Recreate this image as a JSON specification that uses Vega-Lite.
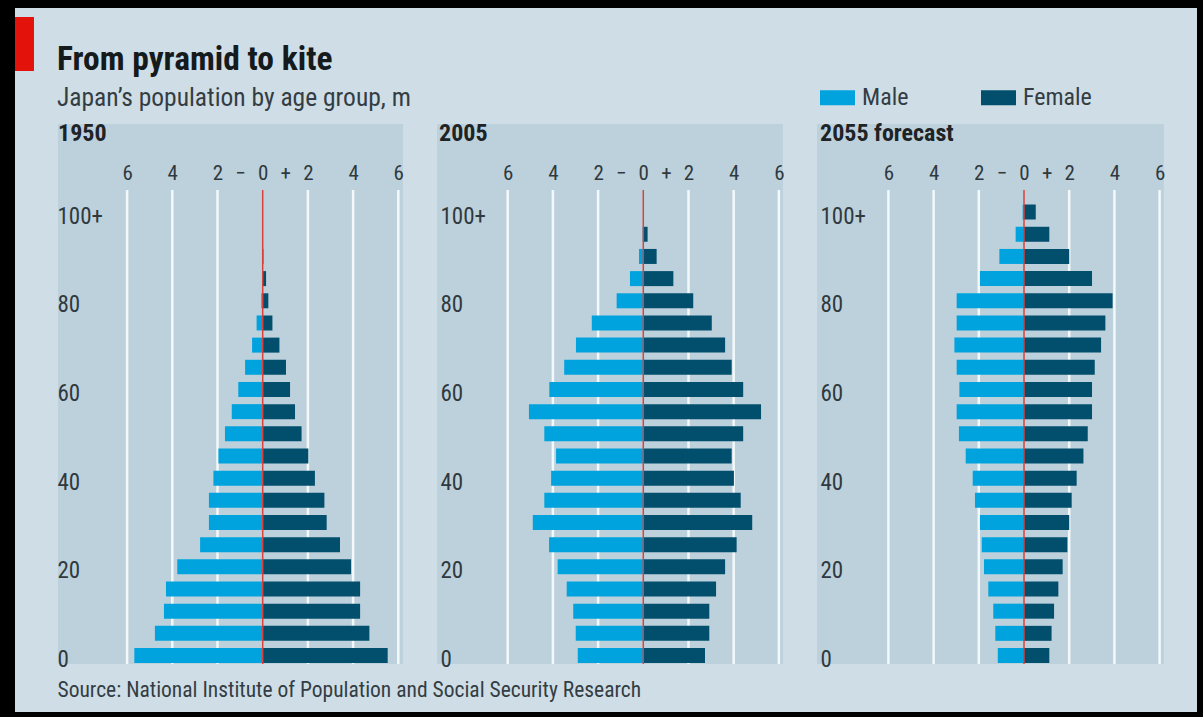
{
  "$schema": "https://vega.github.io/schema/vega-lite/v6.json",
  "background": "#000000",
  "padding": {"left": 15, "top": 8, "right": 6, "bottom": 5},
  "spacing": 0,
  "bounds": "flush",
  "resolve": {"scale": {"color": "shared"}, "legend": {"color": "shared"}},
  "title": {
    "text": "From pyramid to kite",
    "subtitle": "Japan’s population by age group, m",
    "anchor": "start",
    "frame": "group",
    "dx": 42,
    "offset": -104,
    "fontSize": 33.5,
    "fontWeight": "bold",
    "color": "#151a1d",
    "subtitleFontSize": 25.5,
    "subtitleColor": "#333d43",
    "subtitlePadding": 8
  },
  "datasets": {
    "grid": [{"g": -6}, {"g": -4}, {"g": -2}, {"g": 2}, {"g": 4}, {"g": 6}],
    "pop": [
      {"year": "1950", "age": 0, "sex": "Male", "v": -5.68}, {"year": "1950", "age": 5, "sex": "Male", "v": -4.77},
      {"year": "1950", "age": 10, "sex": "Male", "v": -4.37}, {"year": "1950", "age": 15, "sex": "Male", "v": -4.28},
      {"year": "1950", "age": 20, "sex": "Male", "v": -3.78}, {"year": "1950", "age": 25, "sex": "Male", "v": -2.77},
      {"year": "1950", "age": 30, "sex": "Male", "v": -2.38}, {"year": "1950", "age": 35, "sex": "Male", "v": -2.38},
      {"year": "1950", "age": 40, "sex": "Male", "v": -2.18}, {"year": "1950", "age": 45, "sex": "Male", "v": -1.96},
      {"year": "1950", "age": 50, "sex": "Male", "v": -1.67}, {"year": "1950", "age": 55, "sex": "Male", "v": -1.37},
      {"year": "1950", "age": 60, "sex": "Male", "v": -1.08}, {"year": "1950", "age": 65, "sex": "Male", "v": -0.78},
      {"year": "1950", "age": 70, "sex": "Male", "v": -0.47}, {"year": "1950", "age": 75, "sex": "Male", "v": -0.27},
      {"year": "1950", "age": 80, "sex": "Male", "v": -0.06}, {"year": "1950", "age": 85, "sex": "Male", "v": -0.02},
      {"year": "1950", "age": 90, "sex": "Male", "v": 0}, {"year": "1950", "age": 95, "sex": "Male", "v": 0},
      {"year": "1950", "age": 100, "sex": "Male", "v": 0},
      {"year": "1950", "age": 0, "sex": "Female", "v": 5.53}, {"year": "1950", "age": 5, "sex": "Female", "v": 4.72},
      {"year": "1950", "age": 10, "sex": "Female", "v": 4.31}, {"year": "1950", "age": 15, "sex": "Female", "v": 4.31},
      {"year": "1950", "age": 20, "sex": "Female", "v": 3.91}, {"year": "1950", "age": 25, "sex": "Female", "v": 3.42},
      {"year": "1950", "age": 30, "sex": "Female", "v": 2.83}, {"year": "1950", "age": 35, "sex": "Female", "v": 2.73},
      {"year": "1950", "age": 40, "sex": "Female", "v": 2.31}, {"year": "1950", "age": 45, "sex": "Female", "v": 2.02},
      {"year": "1950", "age": 50, "sex": "Female", "v": 1.72}, {"year": "1950", "age": 55, "sex": "Female", "v": 1.43},
      {"year": "1950", "age": 60, "sex": "Female", "v": 1.21}, {"year": "1950", "age": 65, "sex": "Female", "v": 1.03},
      {"year": "1950", "age": 70, "sex": "Female", "v": 0.74}, {"year": "1950", "age": 75, "sex": "Female", "v": 0.43},
      {"year": "1950", "age": 80, "sex": "Female", "v": 0.25}, {"year": "1950", "age": 85, "sex": "Female", "v": 0.15},
      {"year": "1950", "age": 90, "sex": "Female", "v": 0.03}, {"year": "1950", "age": 95, "sex": "Female", "v": 0},
      {"year": "1950", "age": 100, "sex": "Female", "v": 0},
      {"year": "2005", "age": 0, "sex": "Male", "v": -2.9}, {"year": "2005", "age": 5, "sex": "Male", "v": -2.99},
      {"year": "2005", "age": 10, "sex": "Male", "v": -3.1}, {"year": "2005", "age": 15, "sex": "Male", "v": -3.39},
      {"year": "2005", "age": 20, "sex": "Male", "v": -3.79}, {"year": "2005", "age": 25, "sex": "Male", "v": -4.17},
      {"year": "2005", "age": 30, "sex": "Male", "v": -4.89}, {"year": "2005", "age": 35, "sex": "Male", "v": -4.38},
      {"year": "2005", "age": 40, "sex": "Male", "v": -4.08}, {"year": "2005", "age": 45, "sex": "Male", "v": -3.86},
      {"year": "2005", "age": 50, "sex": "Male", "v": -4.38}, {"year": "2005", "age": 55, "sex": "Male", "v": -5.06},
      {"year": "2005", "age": 60, "sex": "Male", "v": -4.16}, {"year": "2005", "age": 65, "sex": "Male", "v": -3.5},
      {"year": "2005", "age": 70, "sex": "Male", "v": -2.98}, {"year": "2005", "age": 75, "sex": "Male", "v": -2.28},
      {"year": "2005", "age": 80, "sex": "Male", "v": -1.18}, {"year": "2005", "age": 85, "sex": "Male", "v": -0.59},
      {"year": "2005", "age": 90, "sex": "Male", "v": -0.19}, {"year": "2005", "age": 95, "sex": "Male", "v": -0.03},
      {"year": "2005", "age": 100, "sex": "Male", "v": 0},
      {"year": "2005", "age": 0, "sex": "Female", "v": 2.73}, {"year": "2005", "age": 5, "sex": "Female", "v": 2.92},
      {"year": "2005", "age": 10, "sex": "Female", "v": 2.92}, {"year": "2005", "age": 15, "sex": "Female", "v": 3.22},
      {"year": "2005", "age": 20, "sex": "Female", "v": 3.62}, {"year": "2005", "age": 25, "sex": "Female", "v": 4.13},
      {"year": "2005", "age": 30, "sex": "Female", "v": 4.82}, {"year": "2005", "age": 35, "sex": "Female", "v": 4.31},
      {"year": "2005", "age": 40, "sex": "Female", "v": 4.01}, {"year": "2005", "age": 45, "sex": "Female", "v": 3.91},
      {"year": "2005", "age": 50, "sex": "Female", "v": 4.42}, {"year": "2005", "age": 55, "sex": "Female", "v": 5.21},
      {"year": "2005", "age": 60, "sex": "Female", "v": 4.42}, {"year": "2005", "age": 65, "sex": "Female", "v": 3.91},
      {"year": "2005", "age": 70, "sex": "Female", "v": 3.62}, {"year": "2005", "age": 75, "sex": "Female", "v": 3.03},
      {"year": "2005", "age": 80, "sex": "Female", "v": 2.21}, {"year": "2005", "age": 85, "sex": "Female", "v": 1.33},
      {"year": "2005", "age": 90, "sex": "Female", "v": 0.59}, {"year": "2005", "age": 95, "sex": "Female", "v": 0.19},
      {"year": "2005", "age": 100, "sex": "Female", "v": 0.03},
      {"year": "2055", "age": 0, "sex": "Male", "v": -1.16}, {"year": "2055", "age": 5, "sex": "Male", "v": -1.27},
      {"year": "2055", "age": 10, "sex": "Male", "v": -1.36}, {"year": "2055", "age": 15, "sex": "Male", "v": -1.58},
      {"year": "2055", "age": 20, "sex": "Male", "v": -1.77}, {"year": "2055", "age": 25, "sex": "Male", "v": -1.87},
      {"year": "2055", "age": 30, "sex": "Male", "v": -1.95}, {"year": "2055", "age": 35, "sex": "Male", "v": -2.17},
      {"year": "2055", "age": 40, "sex": "Male", "v": -2.27}, {"year": "2055", "age": 45, "sex": "Male", "v": -2.58},
      {"year": "2055", "age": 50, "sex": "Male", "v": -2.88}, {"year": "2055", "age": 55, "sex": "Male", "v": -2.98},
      {"year": "2055", "age": 60, "sex": "Male", "v": -2.86}, {"year": "2055", "age": 65, "sex": "Male", "v": -2.98},
      {"year": "2055", "age": 70, "sex": "Male", "v": -3.08}, {"year": "2055", "age": 75, "sex": "Male", "v": -2.98},
      {"year": "2055", "age": 80, "sex": "Male", "v": -2.98}, {"year": "2055", "age": 85, "sex": "Male", "v": -1.95},
      {"year": "2055", "age": 90, "sex": "Male", "v": -1.09}, {"year": "2055", "age": 95, "sex": "Male", "v": -0.37},
      {"year": "2055", "age": 100, "sex": "Male", "v": -0.06},
      {"year": "2055", "age": 0, "sex": "Female", "v": 1.12}, {"year": "2055", "age": 5, "sex": "Female", "v": 1.22},
      {"year": "2055", "age": 10, "sex": "Female", "v": 1.33}, {"year": "2055", "age": 15, "sex": "Female", "v": 1.52},
      {"year": "2055", "age": 20, "sex": "Female", "v": 1.71}, {"year": "2055", "age": 25, "sex": "Female", "v": 1.92},
      {"year": "2055", "age": 30, "sex": "Female", "v": 2.0}, {"year": "2055", "age": 35, "sex": "Female", "v": 2.11},
      {"year": "2055", "age": 40, "sex": "Female", "v": 2.33}, {"year": "2055", "age": 45, "sex": "Female", "v": 2.63},
      {"year": "2055", "age": 50, "sex": "Female", "v": 2.82}, {"year": "2055", "age": 55, "sex": "Female", "v": 3.01},
      {"year": "2055", "age": 60, "sex": "Female", "v": 3.01}, {"year": "2055", "age": 65, "sex": "Female", "v": 3.13},
      {"year": "2055", "age": 70, "sex": "Female", "v": 3.41}, {"year": "2055", "age": 75, "sex": "Female", "v": 3.6},
      {"year": "2055", "age": 80, "sex": "Female", "v": 3.92}, {"year": "2055", "age": 85, "sex": "Female", "v": 3.01},
      {"year": "2055", "age": 90, "sex": "Female", "v": 2.0}, {"year": "2055", "age": 95, "sex": "Female", "v": 1.12},
      {"year": "2055", "age": 100, "sex": "Female", "v": 0.52}
    ]
  },
  "hconcat": [
    {
      "width": 405,
      "height": 704,
      "title": {"text": "1950", "anchor": "start", "frame": "group", "dx": 43, "offset": -138, "fontSize": 24, "fontWeight": "bold", "color": "#1e2326"},
      "layer": [
        {
          "data": {"values": [{"part": "panel"}]},
          "mark": {"type": "rect", "color": "#bdd1dc"},
          "encoding": {
            "x": {"datum": -9.06, "type": "quantitative", "scale": {"domain": [-10.96, 6.96], "nice": false, "zero": false, "padding": 0},
              "axis": {"orient": "top", "zindex": 1, "values": [-6, -4, -2, -1, 0, 1, 2, 4, 6], "labelExpr": "datum.value == -1 ? '−' : datum.value == 1 ? '+' : abs(datum.value)", "title": null}},
            "x2": {"datum": 6.21},
            "y": {"datum": -1.92, "type": "quantitative", "scale": {"domain": [-12.74, 146.03], "nice": false, "zero": false, "padding": 0},
              "axis": {"zindex": 1, "values": [0, 20, 40, 60, 80, 100], "labelExpr": "datum.value == 100 ? '100+' : datum.label", "labelPadding": -42, "title": null}},
            "y2": {"datum": 119.87}
          }
        },
        {
          "data": {"values": [{"part": "marker"}]},
          "mark": {"type": "rect", "color": "#e3120b"},
          "encoding": {
            "x": {"datum": -10.96, "type": "quantitative", "scale": {"domain": [-10.96, 6.96], "nice": false, "zero": false, "padding": 0},
              "axis": {"orient": "top", "zindex": 1, "values": [-6, -4, -2, -1, 0, 1, 2, 4, 6], "labelExpr": "datum.value == -1 ? '−' : datum.value == 1 ? '+' : abs(datum.value)", "title": null}},
            "x2": {"datum": -10.12},
            "y": {"datum": 131.8, "type": "quantitative", "scale": {"domain": [-12.74, 146.03], "nice": false, "zero": false, "padding": 0},
              "axis": {"zindex": 1, "values": [0, 20, 40, 60, 80, 100], "labelExpr": "datum.value == 100 ? '100+' : datum.label", "labelPadding": -42, "title": null}},
            "y2": {"datum": 144.0}
          }
        },
        {
          "data": {"name": "grid"},
          "mark": {"type": "rule", "color": "#f3f8fa", "strokeWidth": 2.5},
          "encoding": {
            "x": {"field": "g", "type": "quantitative", "scale": {"domain": [-10.96, 6.96], "nice": false, "zero": false, "padding": 0},
              "axis": {"orient": "top", "zindex": 1, "values": [-6, -4, -2, -1, 0, 1, 2, 4, 6], "labelExpr": "datum.value == -1 ? '−' : datum.value == 1 ? '+' : abs(datum.value)", "title": null}},
            "y": {"datum": -1.92, "type": "quantitative", "scale": {"domain": [-12.74, 146.03], "nice": false, "zero": false, "padding": 0},
              "axis": {"zindex": 1, "values": [0, 20, 40, 60, 80, 100], "labelExpr": "datum.value == 100 ? '100+' : datum.label", "labelPadding": -42, "title": null}},
            "y2": {"datum": 105}
          }
        },
        {
          "data": {"name": "pop"},
          "transform": [{"filter": "datum.year === '1950'"}],
          "mark": {"type": "bar", "orient": "horizontal", "size": 15},
          "encoding": {
            "x": {"field": "v", "type": "quantitative", "scale": {"domain": [-10.96, 6.96], "nice": false, "zero": false, "padding": 0},
              "axis": {"orient": "top", "zindex": 1, "values": [-6, -4, -2, -1, 0, 1, 2, 4, 6], "labelExpr": "datum.value == -1 ? '−' : datum.value == 1 ? '+' : abs(datum.value)", "title": null}},
            "y": {"field": "age", "type": "quantitative", "scale": {"domain": [-12.74, 146.03], "nice": false, "zero": false, "padding": 0},
              "axis": {"zindex": 1, "values": [0, 20, 40, 60, 80, 100], "labelExpr": "datum.value == 100 ? '100+' : datum.label", "labelPadding": -42, "title": null}},
            "color": {"field": "sex", "type": "nominal", "scale": {"domain": ["Male", "Female"], "range": ["#00a3dd", "#014e6d"]},
              "legend": {"orient": "none", "zindex": 2, "legendX": 805, "legendY": 72, "direction": "horizontal", "columns": 2, "columnPadding": 72, "title": null, "symbolType": "M-1,-0.43L1,-0.43L1,0.43L-1,0.43Z", "symbolSize": 1225, "symbolStrokeWidth": 0, "symbolOpacity": 1, "labelFontSize": 24, "labelColor": "#333d43", "labelOffset": 7, "padding": 0}}
          }
        },
        {
          "data": {"values": [{"part": "zero"}]},
          "mark": {"type": "rule", "color": "#d9413c", "strokeWidth": 1.5},
          "encoding": {
            "x": {"datum": 0, "type": "quantitative", "scale": {"domain": [-10.96, 6.96], "nice": false, "zero": false, "padding": 0},
              "axis": {"orient": "top", "zindex": 1, "values": [-6, -4, -2, -1, 0, 1, 2, 4, 6], "labelExpr": "datum.value == -1 ? '−' : datum.value == 1 ? '+' : abs(datum.value)", "title": null}},
            "y": {"datum": -1.92, "type": "quantitative", "scale": {"domain": [-12.74, 146.03], "nice": false, "zero": false, "padding": 0},
              "axis": {"zindex": 1, "values": [0, 20, 40, 60, 80, 100], "labelExpr": "datum.value == 100 ? '100+' : datum.label", "labelPadding": -42, "title": null}},
            "y2": {"datum": 105}
          }
        }
      ]
    },
    {
      "width": 380,
      "height": 704,
      "title": {"text": "2005", "anchor": "start", "frame": "group", "dx": 19, "offset": -138, "fontSize": 24, "fontWeight": "bold", "color": "#1e2326"},
      "layer": [
        {
          "data": {"values": [{"part": "panel"}]},
          "mark": {"type": "rect", "color": "#bdd1dc"},
          "encoding": {
            "x": {"datum": -9.13, "type": "quantitative", "scale": {"domain": [-9.881, 6.934], "nice": false, "zero": false, "padding": 0},
              "axis": {"orient": "top", "zindex": 1, "values": [-6, -4, -2, -1, 0, 1, 2, 4, 6], "labelExpr": "datum.value == -1 ? '−' : datum.value == 1 ? '+' : abs(datum.value)", "title": null}},
            "x2": {"datum": 6.18},
            "y": {"datum": -1.92, "type": "quantitative", "scale": {"domain": [-12.74, 146.03], "nice": false, "zero": false, "padding": 0},
              "axis": {"zindex": 1, "values": [0, 20, 40, 60, 80, 100], "labelExpr": "datum.value == 100 ? '100+' : datum.label", "labelPadding": -20, "title": null}},
            "y2": {"datum": 119.87}
          }
        },
        {
          "data": {"name": "grid"},
          "mark": {"type": "rule", "color": "#f3f8fa", "strokeWidth": 2.5},
          "encoding": {
            "x": {"field": "g", "type": "quantitative", "scale": {"domain": [-9.881, 6.934], "nice": false, "zero": false, "padding": 0},
              "axis": {"orient": "top", "zindex": 1, "values": [-6, -4, -2, -1, 0, 1, 2, 4, 6], "labelExpr": "datum.value == -1 ? '−' : datum.value == 1 ? '+' : abs(datum.value)", "title": null}},
            "y": {"datum": -1.92, "type": "quantitative", "scale": {"domain": [-12.74, 146.03], "nice": false, "zero": false, "padding": 0},
              "axis": {"zindex": 1, "values": [0, 20, 40, 60, 80, 100], "labelExpr": "datum.value == 100 ? '100+' : datum.label", "labelPadding": -20, "title": null}},
            "y2": {"datum": 105}
          }
        },
        {
          "data": {"name": "pop"},
          "transform": [{"filter": "datum.year === '2005'"}],
          "mark": {"type": "bar", "orient": "horizontal", "size": 15},
          "encoding": {
            "x": {"field": "v", "type": "quantitative", "scale": {"domain": [-9.881, 6.934], "nice": false, "zero": false, "padding": 0},
              "axis": {"orient": "top", "zindex": 1, "values": [-6, -4, -2, -1, 0, 1, 2, 4, 6], "labelExpr": "datum.value == -1 ? '−' : datum.value == 1 ? '+' : abs(datum.value)", "title": null}},
            "y": {"field": "age", "type": "quantitative", "scale": {"domain": [-12.74, 146.03], "nice": false, "zero": false, "padding": 0},
              "axis": {"zindex": 1, "values": [0, 20, 40, 60, 80, 100], "labelExpr": "datum.value == 100 ? '100+' : datum.label", "labelPadding": -20, "title": null}},
            "color": {"field": "sex", "type": "nominal", "scale": {"domain": ["Male", "Female"], "range": ["#00a3dd", "#014e6d"]}, "legend": null}
          }
        },
        {
          "data": {"values": [{"part": "zero"}]},
          "mark": {"type": "rule", "color": "#d9413c", "strokeWidth": 1.5},
          "encoding": {
            "x": {"datum": 0, "type": "quantitative", "scale": {"domain": [-9.881, 6.934], "nice": false, "zero": false, "padding": 0},
              "axis": {"orient": "top", "zindex": 1, "values": [-6, -4, -2, -1, 0, 1, 2, 4, 6], "labelExpr": "datum.value == -1 ? '−' : datum.value == 1 ? '+' : abs(datum.value)", "title": null}},
            "y": {"datum": -1.92, "type": "quantitative", "scale": {"domain": [-12.74, 146.03], "nice": false, "zero": false, "padding": 0},
              "axis": {"zindex": 1, "values": [0, 20, 40, 60, 80, 100], "labelExpr": "datum.value == 100 ? '100+' : datum.label", "labelPadding": -20, "title": null}},
            "y2": {"datum": 105}
          }
        }
      ]
    },
    {
      "width": 397,
      "height": 704,
      "title": {"text": "2055 forecast", "anchor": "start", "frame": "group", "dx": 20, "offset": -138, "fontSize": 24, "fontWeight": "bold", "color": "#1e2326"},
      "layer": [
        {
          "data": {"values": [{"part": "panel"}]},
          "mark": {"type": "rect", "color": "#bdd1dc"},
          "encoding": {
            "x": {"datum": -9.16, "type": "quantitative", "scale": {"domain": [-9.912, 7.655], "nice": false, "zero": false, "padding": 0},
              "axis": {"orient": "top", "zindex": 1, "values": [-6, -4, -2, -1, 0, 1, 2, 4, 6], "labelExpr": "datum.value == -1 ? '−' : datum.value == 1 ? '+' : abs(datum.value)"}},
            "x2": {"datum": 6.19},
            "y": {"datum": -1.92, "type": "quantitative", "scale": {"domain": [-12.74, 146.03], "nice": false, "zero": false, "padding": 0},
              "axis": {"zindex": 1, "values": [0, 20, 40, 60, 80, 100], "labelExpr": "datum.value == 100 ? '100+' : datum.label", "labelPadding": -20, "title": null}},
            "y2": {"datum": 119.87}
          }
        },
        {
          "data": {"name": "grid"},
          "mark": {"type": "rule", "color": "#f3f8fa", "strokeWidth": 2.5},
          "encoding": {
            "x": {"field": "g", "type": "quantitative", "scale": {"domain": [-9.912, 7.655], "nice": false, "zero": false, "padding": 0},
              "axis": {"orient": "top", "zindex": 1, "values": [-6, -4, -2, -1, 0, 1, 2, 4, 6], "labelExpr": "datum.value == -1 ? '−' : datum.value == 1 ? '+' : abs(datum.value)"}},
            "y": {"datum": -1.92, "type": "quantitative", "scale": {"domain": [-12.74, 146.03], "nice": false, "zero": false, "padding": 0},
              "axis": {"zindex": 1, "values": [0, 20, 40, 60, 80, 100], "labelExpr": "datum.value == 100 ? '100+' : datum.label", "labelPadding": -20, "title": null}},
            "y2": {"datum": 105}
          }
        },
        {
          "data": {"name": "pop"},
          "transform": [{"filter": "datum.year === '2055'"}],
          "mark": {"type": "bar", "orient": "horizontal", "size": 15},
          "encoding": {
            "x": {"field": "v", "type": "quantitative", "scale": {"domain": [-9.912, 7.655], "nice": false, "zero": false, "padding": 0},
              "axis": {"orient": "top", "zindex": 1, "values": [-6, -4, -2, -1, 0, 1, 2, 4, 6], "labelExpr": "datum.value == -1 ? '−' : datum.value == 1 ? '+' : abs(datum.value)",
                "title": "Source: National Institute of Population and Social Security Research", "titleX": -743}},
            "y": {"field": "age", "type": "quantitative", "scale": {"domain": [-12.74, 146.03], "nice": false, "zero": false, "padding": 0},
              "axis": {"zindex": 1, "values": [0, 20, 40, 60, 80, 100], "labelExpr": "datum.value == 100 ? '100+' : datum.label", "labelPadding": -20, "title": null}},
            "color": {"field": "sex", "type": "nominal", "scale": {"domain": ["Male", "Female"], "range": ["#00a3dd", "#014e6d"]}, "legend": null}
          }
        },
        {
          "data": {"values": [{"part": "zero"}]},
          "mark": {"type": "rule", "color": "#d9413c", "strokeWidth": 1.5},
          "encoding": {
            "x": {"datum": 0, "type": "quantitative", "scale": {"domain": [-9.912, 7.655], "nice": false, "zero": false, "padding": 0},
              "axis": {"orient": "top", "zindex": 1, "values": [-6, -4, -2, -1, 0, 1, 2, 4, 6], "labelExpr": "datum.value == -1 ? '−' : datum.value == 1 ? '+' : abs(datum.value)"}},
            "y": {"datum": -1.92, "type": "quantitative", "scale": {"domain": [-12.74, 146.03], "nice": false, "zero": false, "padding": 0},
              "axis": {"zindex": 1, "values": [0, 20, 40, 60, 80, 100], "labelExpr": "datum.value == 100 ? '100+' : datum.label", "labelPadding": -20, "title": null}},
            "y2": {"datum": 105}
          }
        }
      ]
    }
  ],
  "config": {
    "font": "Liberation Sans Narrow, Roboto Condensed, Roboto, sans-serif",
    "view": {"fill": "#cfdee6", "stroke": null},
    "title": {"font": "Liberation Sans Narrow, Roboto Condensed, Roboto, sans-serif", "subtitleFont": "Liberation Sans Narrow, Roboto Condensed, Roboto, sans-serif", "baseline": "alphabetic"},
    "axis": {"labelFont": "Liberation Sans Narrow, Roboto Condensed, Roboto, sans-serif", "titleFont": "Liberation Sans Narrow, Roboto Condensed, Roboto, sans-serif",
      "ticks": false, "tickSize": 0, "domain": false, "grid": false, "labelOverlap": false, "labelFlush": false, "labelBound": false, "labelColor": "#2f393e"},
    "axisX": {"labelPadding": -165, "labelBaseline": "middle", "labelFontSize": 21,
      "titleY": 688, "titleAlign": "left", "titleAnchor": "start", "titleBaseline": "alphabetic", "titleFontSize": 21.5, "titleFontWeight": "normal", "titleColor": "#333d43"},
    "axisY": {"labelAlign": "left", "labelBaseline": "middle", "labelOffset": 4, "labelFontSize": 23},
    "legend": {"labelFont": "Liberation Sans Narrow, Roboto Condensed, Roboto, sans-serif"}
  }
}
